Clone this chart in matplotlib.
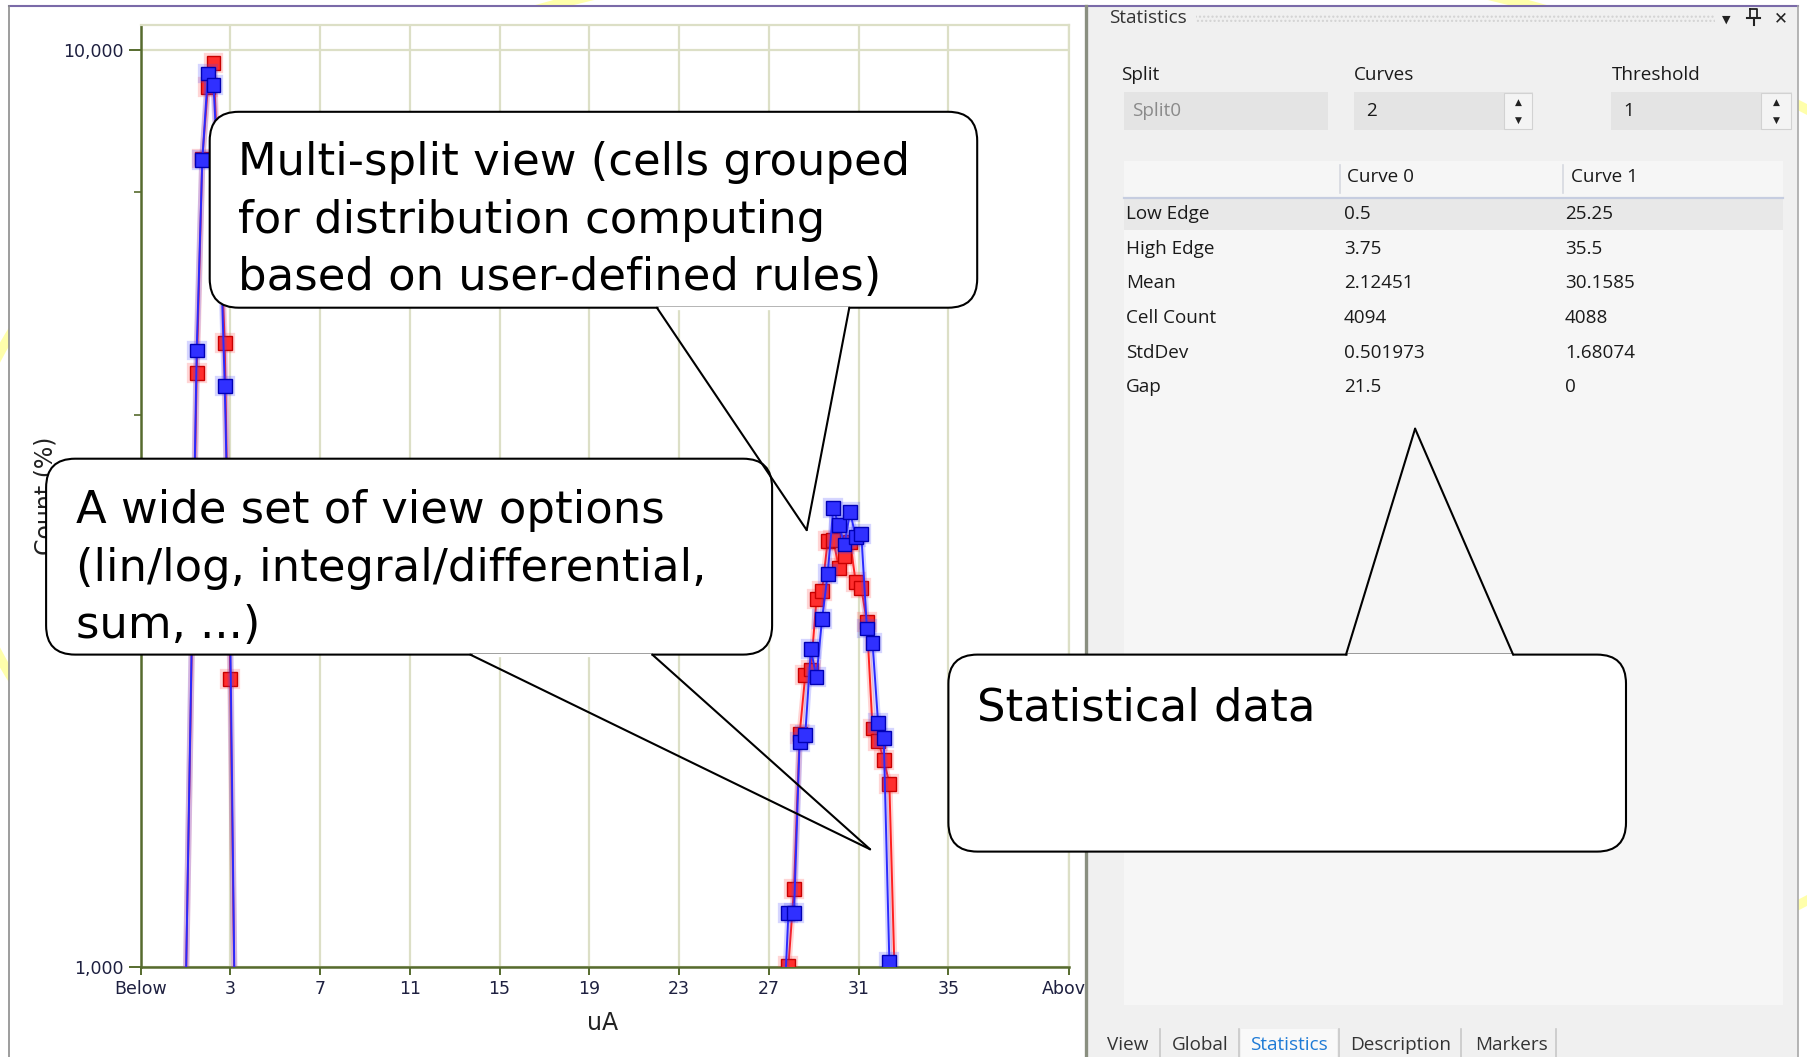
import matplotlib
matplotlib.use("Agg")
import matplotlib.pyplot as plt
import matplotlib.patheffects as pe
from matplotlib.patches import FancyBboxPatch, Rectangle, Ellipse
from matplotlib.ticker import NullFormatter
from matplotlib import font_manager

W, H = 1807, 1057


def first_font(*names):
    avail = {f.name for f in font_manager.fontManager.ttflist}
    for n in names:
        if n in avail:
            return n
    return "DejaVu Sans"


UI_FONT = first_font("Open Sans", "Noto Sans", "DejaVu Sans")
CALLOUT_FONT = "DejaVu Sans"
AXIS_FONT = "DejaVu Sans"
UI_SIZE = 13.6

# ---- histogram data: bin position (uA) and cell count per split ----
bins_low = [1.0, 1.5, 1.75, 2.0, 2.25, 2.5, 2.75, 3.0, 3.25]
red_low = [900, 4440, 7610, 9110, 9680, 6900, 4790, 2060, 700]
blue_low = [900, 4700, 7580, 9420, 9150, 6930, 4300, 2270, 700]

bins_high = [27.625, 27.875, 28.125, 28.375, 28.625, 28.875, 29.125,
             29.375, 29.625, 29.875, 30.125, 30.375, 30.625, 30.875,
             31.125, 31.375, 31.625, 31.875, 32.125, 32.375, 32.625]
red_high = [500, 1003, 1217, 1794, 2079, 2110, 2516, 2568, 2916, 2924,
            2721, 2809, 2909, 2628, 2591, 2375, 1820, 1763, 1683, 1584, 950]
blue_high = [840, 1145, 1145, 1761, 1789, 2220, 2069, 2395, 2682, 3162,
             3031, 2888, 3135, 2944, 2963, 2339, 2256, 1843, 1775, 1013, 700]

xtick_pos = [-1, 3, 7, 11, 15, 19, 23, 27, 31, 35, 40.4]
xtick_labels = ["Below", "3", "7", "11", "15", "19", "23", "27", "31", "35", "Above"]
ytick_major = [1000, 10000]
ytick_major_labels = ["1,000", "10,000"]
ytick_minor = [4000, 7000]

# ---- statistics panel content ----
stat_rows = ["Low Edge", "High Edge", "Mean", "Cell Count", "StdDev", "Gap"]
curve0_vals = ["0.5", "3.75", "2.12451", "4094", "0.501973", "21.5"]
curve1_vals = ["25.25", "35.5", "30.1585", "4088", "1.68074", "0"]
curve_headers = ["Curve 0", "Curve 1"]
split_name = "Split0"
curves_count = "2"
threshold_value = "1"
tab_names = ["View", "Global", "Statistics", "Description", "Markers"]

callout_split = ["Multi-split view (cells grouped",
                 "for distribution computing",
                 "based on user-defined rules)"]
callout_view = ["A wide set of view options",
                "(lin/log, integral/differential,",
                "sum, ...)"]
callout_stats = ["Statistical data"]

fig = plt.figure(figsize=(W / 100, H / 100), dpi=100)

# ---- slide background and window body ----
bg = fig.add_axes([0, 0, 1, 1], zorder=0)
bg.set_xlim(0, W)
bg.set_ylim(H, 0)
bg.axis("off")
bg.add_patch(Ellipse((1041, 505), 2 * 1082, 2 * 560, fill=False,
                     ec="#ffff66", lw=7, alpha=0.55))
bg.add_patch(Rectangle((9, 6), 1789, H - 6, fc="white", ec="none"))

# ---- histogram axes ----
ax_l, ax_r, ax_t, ax_b = 140.6, 1069.4, 25.4, 967.0
ax = fig.add_axes([ax_l / W, 1 - ax_b / H, (ax_r - ax_l) / W, (ax_b - ax_t) / H],
                  zorder=2)
ax.set_facecolor("white")
ax.set_yscale("log")

glow_r = [pe.Stroke(linewidth=4.5, foreground="#ff4040", alpha=0.22), pe.Normal()]
glow_b = [pe.Stroke(linewidth=4.5, foreground="#4040ff", alpha=0.22), pe.Normal()]
ax.plot(bins_low + bins_high, red_low + red_high, color="#ff2020", lw=1.4,
        marker="s", ms=10, mfc="#ff2e2e", mec="#c80000", mew=1.0,
        path_effects=glow_r, zorder=3)
ax.plot(bins_low + bins_high, blue_low + blue_high, color="#2a2aff", lw=1.4,
        marker="s", ms=10, mfc="#3030ff", mec="#0000b4", mew=1.0,
        path_effects=glow_b, zorder=4)

ax.set_xlim(-1.0, 40.4)
ax.set_ylim(1000, 10630)
ax.set_xticks(xtick_pos)
ax.set_xticklabels(xtick_labels)
ax.set_yticks(ytick_major)
ax.set_yticklabels(ytick_major_labels)
ax.set_yticks(ytick_minor, minor=True)
ax.yaxis.set_minor_formatter(NullFormatter())
ax.xaxis.set_minor_locator(matplotlib.ticker.NullLocator())

grid_c = "#dcdfc6"
axis_c = "#566b2e"
ax.set_axisbelow(True)
ax.grid(True, axis="x", color=grid_c, lw=1.6)
ax.grid(True, axis="y", which="major", color=grid_c, lw=1.6)
for side in ("left", "bottom"):
    ax.spines[side].set_color(axis_c)
    ax.spines[side].set_linewidth(1.8)
for side in ("top", "right"):
    ax.spines[side].set_color(grid_c)
    ax.spines[side].set_linewidth(1.6)

lab_c = "#1e2040"
ax.tick_params(axis="x", direction="out", length=6, width=1.4, color=axis_c,
               labelsize=12.5, labelcolor=lab_c, pad=3)
ax.tick_params(axis="y", which="major", direction="out", length=9, width=1.4,
               color=axis_c, labelsize=12.5, labelcolor=lab_c, pad=3)
ax.tick_params(axis="y", which="minor", direction="out", length=5, width=1.2,
               color=axis_c)
for lbl in ax.get_xticklabels() + ax.get_yticklabels():
    lbl.set_family(AXIS_FONT)

ax.set_xlabel("uA", fontsize=17, family=AXIS_FONT, color="#222222")
ax.set_ylabel("Count (%)", fontsize=17, family=AXIS_FONT, color="#222222")
ax.xaxis.set_label_coords(0.4975, -0.047)
ax.yaxis.set_label_coords(-0.09, 0.5)

# ---- overlay: window chrome, statistics panel, callouts ----
ov = fig.add_axes([0, 0, 1, 1], zorder=5)
ov.set_xlim(0, W)
ov.set_ylim(H, 0)
ov.axis("off")

ov.plot([9.2, 1797.8], [5.8, 5.8], color="#7a6aa8", lw=1.5, zorder=2)
ov.plot([9.2, 9.2], [5.8, H], color="#8c8c8c", lw=1.2, zorder=2)

pan_l, pan_r = 1085.6, 1797.8
ov.add_patch(Rectangle((pan_l, 6.5), pan_r - pan_l, H - 6.5, fc="#f0f0f0",
                       ec="none", zorder=1))
ov.plot([pan_l, pan_l], [6, H], color="#8a8f80", lw=2.4, zorder=2)
ov.plot([pan_r, pan_r], [6, H], color="#a8a8a8", lw=1.2, zorder=2)

txt_c = "#1a1a1a"
# title bar
ov.text(1108.6, 18.4, "Statistics", fontsize=UI_SIZE, family=UI_FONT, color="#333333",
        va="center", ha="left", zorder=3)
ov.add_patch(Rectangle((1196, 13.5), 519, 10, fc="none", ec="#d2d2d2", lw=0,
                       hatch="....", zorder=2))
ov.text(1726, 20, "\u25BC", fontsize=8, family="DejaVu Sans", color="#222222",
        ha="center", va="center", zorder=3)
px, py = 1754, 17
ov.plot([px - 3.5, px + 3.5, px + 3.5, px - 3.5, px - 3.5],
        [py - 8, py - 8, py + 1, py + 1, py - 8], color="#222222", lw=1.3, zorder=3)
ov.plot([px - 6.5, px + 6.5], [py + 1, py + 1], color="#222222", lw=1.5, zorder=3)
ov.plot([px, px], [py + 1, py + 8], color="#222222", lw=1.5, zorder=3)
ov.text(1780.5, 18.4, "\u2715", fontsize=12, family="DejaVu Sans", color="#222222",
        ha="center", va="center", zorder=3)

# split / curves / threshold inputs
for lx, lab in [(1121.3, "Split"), (1354.0, "Curves"), (1612.2, "Threshold")]:
    ov.text(lx, 74.9, lab, fontsize=UI_SIZE, family=UI_FONT, color=txt_c,
            va="center", ha="left", zorder=3)
ov.add_patch(Rectangle((1123.6, 92.2), 204, 38, fc="#e4e4e4", ec="none", zorder=2))
ov.text(1131.7, 110.6, split_name, fontsize=UI_SIZE, family=UI_FONT, color="#8a8a8a",
        va="center", ha="left", zorder=3)
for bx0, bx1, sx, val in [(1354.0, 1532.7, 1503.9, curves_count),
                          (1611.0, 1792.0, 1761.0, threshold_value)]:
    ov.add_patch(Rectangle((bx0, 92.2), bx1 - bx0, 38, fc="#e4e4e4", ec="none",
                           zorder=2))
    ov.add_patch(Rectangle((sx, 93), bx1 - sx - 1, 36, fc="#f4f4f4", ec="#d2d2d2",
                           lw=0.8, zorder=2))
    ov.text(bx0 + 12, 110.6, val, fontsize=UI_SIZE, family=UI_FONT, color=txt_c,
            va="center", ha="left", zorder=3)
    sc = (sx + bx1) / 2
    ov.text(sc, 102.6, "\u25B2", fontsize=6.5, family="DejaVu Sans", color="#222222",
            ha="center", va="center", zorder=3)
    ov.text(sc, 119.9, "\u25BC", fontsize=6.5, family="DejaVu Sans", color="#222222",
            ha="center", va="center", zorder=3)

# statistics table
tb_l, tb_r = 1123.6, 1782.8
ov.add_patch(Rectangle((tb_l, 161.3), tb_r - tb_l, 1004.9 - 161.3, fc="#f6f6f6",
                       ec="none", zorder=2))
for sx in (1340.2, 1562.7):
    ov.plot([sx, sx], [164.8, 192.5], color="#d6d9e0", lw=1.2, zorder=3)
ov.plot([tb_l, tb_r], [198.2, 198.2], color="#c6cde0", lw=1.6, zorder=3)
ov.add_patch(Rectangle((tb_l, 199.4), tb_r - tb_l, 31.1, fc="#e8e8e8", ec="none",
                       zorder=2))
ov.text(1347.0, 177.5, curve_headers[0], fontsize=UI_SIZE, family=UI_FONT, color=txt_c,
        va="center", ha="left", zorder=3)
ov.text(1570.7, 177.5, curve_headers[1], fontsize=UI_SIZE, family=UI_FONT, color=txt_c,
        va="center", ha="left", zorder=3)
row_y = [214.3, 248.9, 283.5, 318.1, 352.6, 387.2]
for yy, name, v0, v1 in zip(row_y, stat_rows, curve0_vals, curve1_vals):
    ov.text(1126.0, yy, name, fontsize=UI_SIZE, family=UI_FONT, color=txt_c,
            va="center", ha="left", zorder=3)
    ov.text(1343.7, yy, v0, fontsize=UI_SIZE, family=UI_FONT, color=txt_c,
            va="center", ha="left", zorder=3)
    ov.text(1565.0, yy, v1, fontsize=UI_SIZE, family=UI_FONT, color=txt_c,
            va="center", ha="left", zorder=3)

# tab strip
ov.add_patch(Rectangle((1241.0, 1029.0), 96, 28, fc="#f9f9f9", ec="none", zorder=2))
tab_x = [1107.5, 1172.0, 1250.4, 1350.6, 1475.0]
for tx, name in zip(tab_x, tab_names):
    ov.text(tx, 1045.2, name, fontsize=UI_SIZE, family=UI_FONT,
            color="#1f7bd6" if name == "Statistics" else "#333333",
            va="center", ha="left", zorder=3)
for sx in (1160.5, 1238.8, 1339.1, 1461.2, 1555.7):
    ov.plot([sx, sx], [1029, H], color="#c8c8c8", lw=1.2, zorder=3)


def callout(x0, y0, x1, y1, base_a, base_b, tip, lines, tx, baselines,
            base_edge="bottom", size=32.3):
    box = FancyBboxPatch((x0, y0), x1 - x0, y1 - y0,
                         boxstyle="round,pad=0,rounding_size=29",
                         fc="white", ec="black", lw=1.5, zorder=6)
    ov.add_patch(box)
    ey = y1 if base_edge == "bottom" else y0
    ov.plot([base_a + 1.5, base_b - 1.5], [ey, ey], color="white", lw=2.4,
            zorder=7, solid_capstyle="butt")
    for bxp in (base_a, base_b):
        ov.plot([bxp, tip[0]], [ey, tip[1]], color="black", lw=1.5, zorder=7,
                solid_capstyle="round")
    for line, by in zip(lines, baselines):
        ov.text(tx, by, line, fontsize=size, family=CALLOUT_FONT, color="black",
                va="baseline", ha="left", zorder=8)


callout(209.7, 111.8, 977.2, 307.7, 656.9, 849.3, (806.7, 530.1),
        callout_split, 238.5, [175.0, 232.7, 290.3])
callout(46.1, 458.7, 772.1, 654.6, 470.2, 652.3, (870.1, 849.3),
        callout_view, 76.1, [523.0, 580.7, 638.3])
callout(948.4, 654.6, 1626.0, 851.6, 1346.0, 1513.1, (1415.1, 428.7),
        callout_stats, 977.2, [720.1], base_edge="top")

fig.savefig("out.png", dpi=100)
